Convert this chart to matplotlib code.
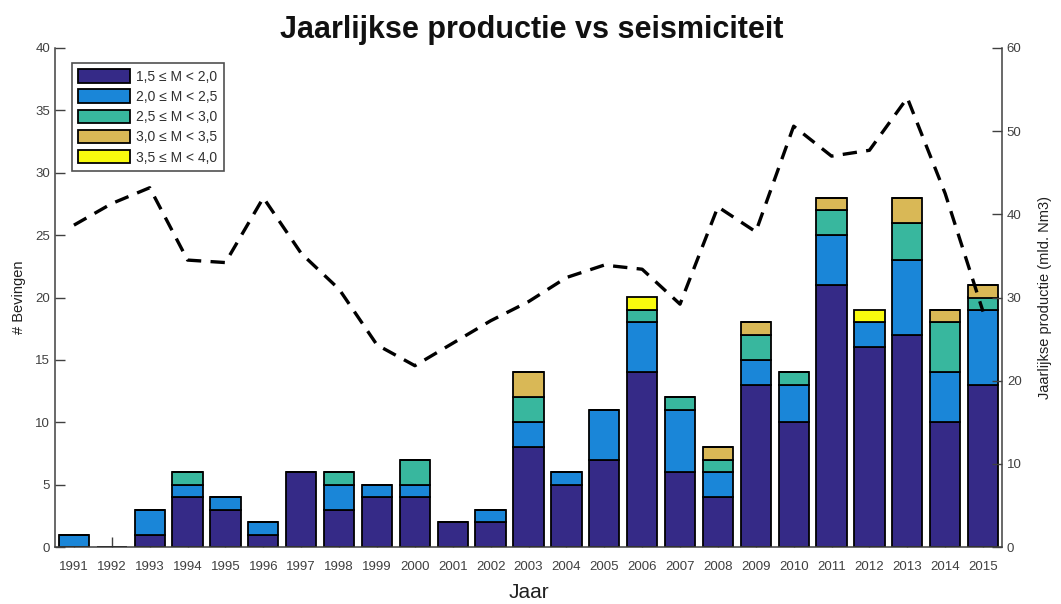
import numpy as np
import matplotlib
matplotlib.use("Agg")
import matplotlib.pyplot as plt

plt.rcParams['font.family'] = ['Liberation Sans', 'DejaVu Sans']

years = list(range(1991, 2016))

# Number of earthquakes per magnitude class
m15_20 = [0, 0, 1, 4, 3, 1, 6, 3, 4, 4, 2, 2, 8, 5, 7, 14, 6, 4, 13, 10, 21, 16, 17, 10, 13]
m20_25 = [1, 0, 2, 1, 1, 1, 0, 2, 1, 1, 0, 1, 2, 1, 4, 4, 5, 2, 2, 3, 4, 2, 6, 4, 6]
m25_30 = [0, 0, 0, 1, 0, 0, 0, 1, 0, 2, 0, 0, 2, 0, 0, 1, 1, 1, 2, 1, 2, 0, 3, 4, 1]
m30_35 = [0, 0, 0, 0, 0, 0, 0, 0, 0, 0, 0, 0, 2, 0, 0, 0, 0, 1, 1, 0, 1, 0, 2, 1, 1]
m35_40 = [0, 0, 0, 0, 0, 0, 0, 0, 0, 0, 0, 0, 0, 0, 0, 1, 0, 0, 0, 0, 0, 1, 0, 0, 0]

# Annual gas production (billion Nm3)
production = [38.7, 41.3, 43.2, 34.5, 34.2, 42.0, 35.3, 31.0, 24.3, 21.8, 24.5, 27.2,
              29.5, 32.4, 33.9, 33.4, 29.2, 40.9, 37.9, 50.6, 47.0, 47.7, 54.0, 42.5, 28.3]

class_labels = ["1,5 \u2264 M < 2,0", "2,0 \u2264 M < 2,5", "2,5 \u2264 M < 3,0",
                "3,0 \u2264 M < 3,5", "3,5 \u2264 M < 4,0"]
series = [m15_20, m20_25, m25_30, m30_35, m35_40]
colors = ["#352a87", "#1a86d8", "#38b79e", "#d9b856", "#f9fb0e"]

tick_color = "#404040"
W, H = 1061, 604
fig = plt.figure(figsize=(W / 100, H / 100), dpi=100)
ax = fig.add_axes([55 / W, 1 - 547 / H, (1002 - 55) / W, (547 - 48) / H])

bottom = np.zeros(len(years))
handles = []
for vals, col, lab in zip(series, colors, class_labels):
    vals = np.array(vals, dtype=float)
    b = ax.bar(years, vals, width=0.8, bottom=bottom, color=col,
               edgecolor="black", linewidth=1.3, label=lab, zorder=2)
    handles.append(b)
    bottom += vals

ax.set_xlim(1990.5, 2015.5)
ax.set_ylim(0, 40)
ax.set_xticks(years)
ax.set_xticklabels([str(y) for y in years])
ax.set_yticks(range(0, 41, 5))
ax.set_axisbelow(True)
ax.tick_params(axis='both', direction='in', length=7, width=1, color=tick_color,
               labelcolor=tick_color, labelsize=9.5)
ax.tick_params(axis='x', pad=10)
ax.spines['top'].set_visible(False)
ax.spines['right'].set_visible(False)
for s in ('left', 'bottom'):
    ax.spines[s].set_color(tick_color)
    ax.spines[s].set_linewidth(1.1)
ax.set_xlabel("Jaar", fontsize=15, color="#202020", labelpad=7)
ax.set_ylabel("# Bevingen", fontsize=10.5, color="#202020", labelpad=7)

ax2 = ax.twinx()
ax2.plot(years, production, color="black", linewidth=2.4, linestyle=(0, (4.3, 2.8)),
         zorder=3)
ax2.set_ylim(0, 60)
ax2.set_yticks(range(0, 61, 10))
ax2.tick_params(axis='y', direction='in', length=7, width=1, color=tick_color,
                labelcolor=tick_color, labelsize=9.5)
for s in ('top', 'left', 'bottom'):
    ax2.spines[s].set_visible(False)
ax2.spines['right'].set_color(tick_color)
ax2.spines['right'].set_linewidth(1.1)
ax2.set_ylabel("Jaarlijkse productie (mld. Nm3)", fontsize=10.5, color="#202020",
               labelpad=12)

leg = ax.legend(handles=handles, loc='upper left',
                bbox_to_anchor=((72 - 55) / 947, (547 - 63) / 499),
                borderaxespad=0, fontsize=10, frameon=True, fancybox=False,
                framealpha=1, edgecolor="#505050", handlelength=3.7,
                handleheight=1.1, labelspacing=0.42, handletextpad=0.45,
                borderpad=0.45)
leg.get_frame().set_linewidth(1.2)
for t in leg.get_texts():
    t.set_color("#303030")

fig.text(532 / W, 1 - 38 / H, "Jaarlijkse productie vs seismiciteit",
         ha='center', va='baseline', fontsize=22, fontweight='bold', color="#111111")

fig.savefig("out.png", dpi=100)
